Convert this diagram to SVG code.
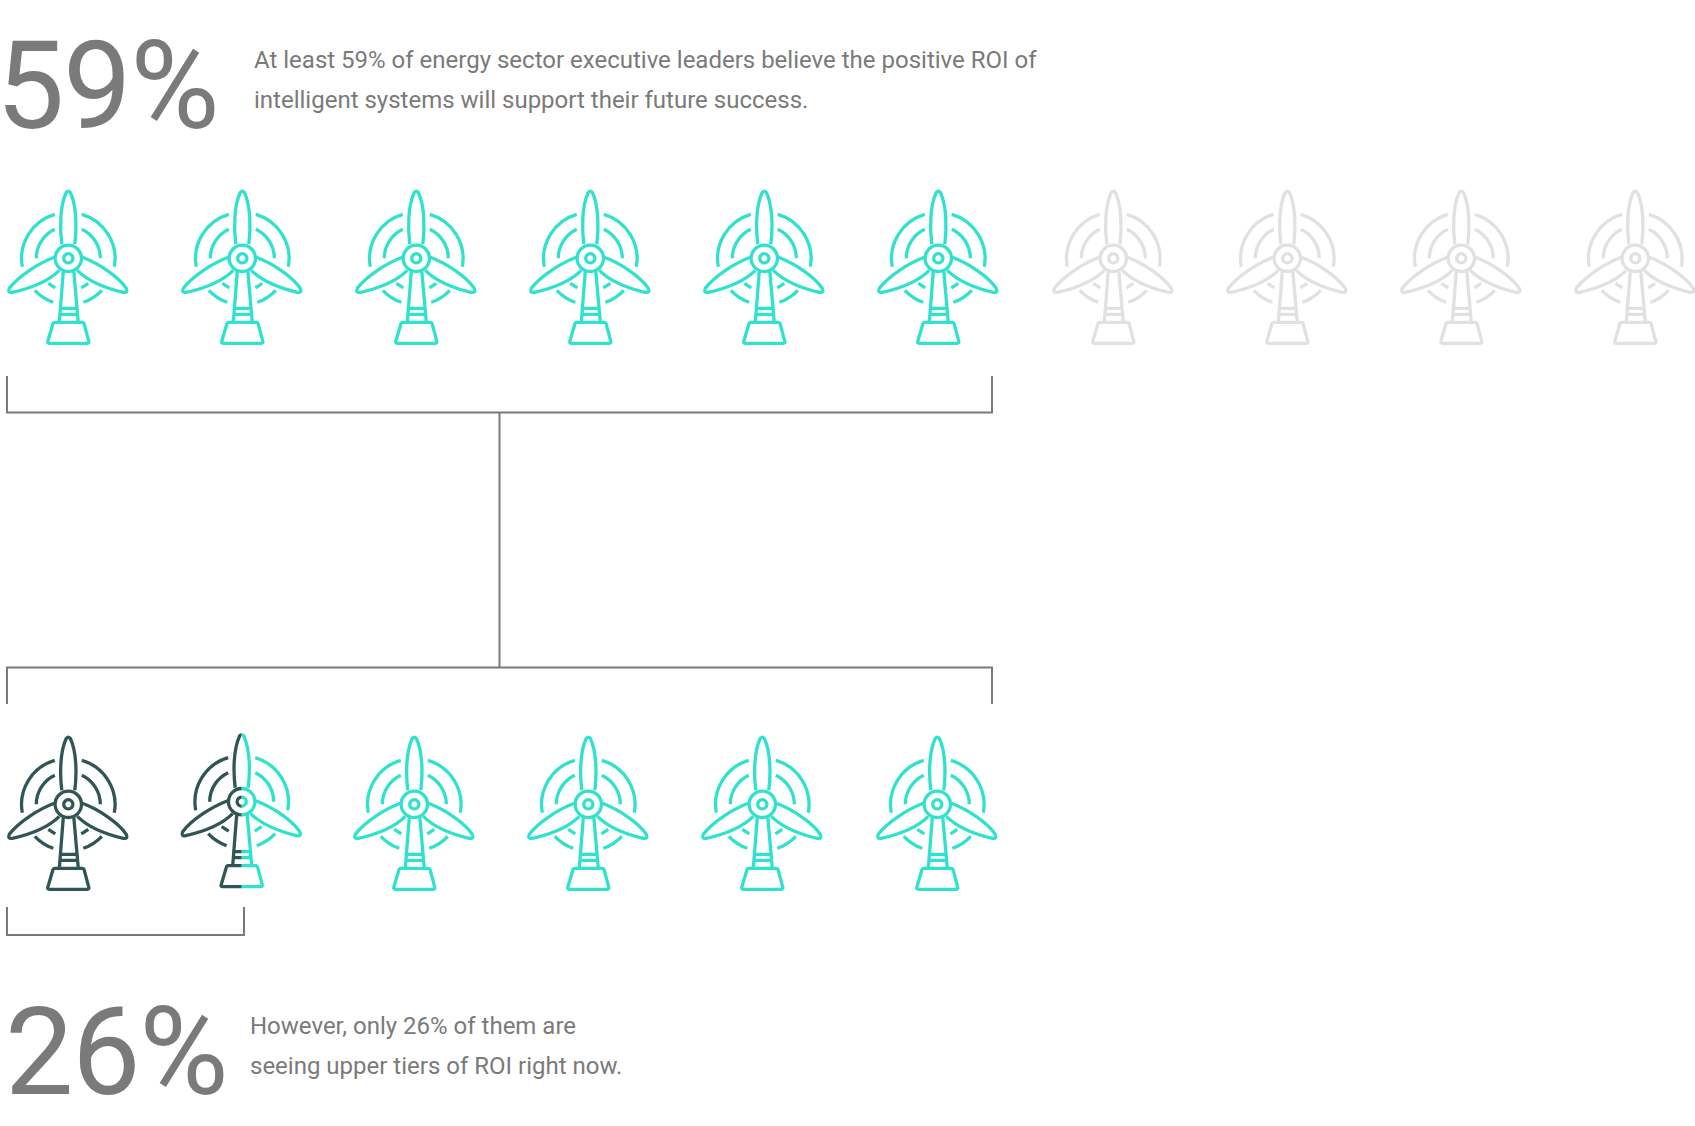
<svg xmlns="http://www.w3.org/2000/svg" width="1695" height="1126" viewBox="0 0 1695 1126">
<style>
text{font-family:Roboto,"Liberation Sans",sans-serif;fill:#7a7a7a}
.big{font-size:122px;letter-spacing:-1.5px}
.body{font-size:24px}
.conn{fill:none;stroke:#7a7a7a;stroke-width:2}
.t{color:#30e2cd}.g{color:#e1e1e1}.d{color:#2f5654}
</style>
<defs>
<g id="turbine" fill="none" stroke="currentColor" stroke-width="3.3" stroke-linecap="butt" stroke-linejoin="round">
<path d="M-6.500-14C-8.500-30-8.500-52-2-66Q0-68 2-66C8.500-52 8.500-30 6.500-14"/>
<path d="M14-1C30 5 50 18 58 30Q60 35 55 34C38 30 20 23 9 12"/>
<path d="M-14-1C-30 5-50 18-59 30Q-61 35-56 34C-38 30-20 23-9 12"/>
<circle r="13.200"/><circle r="4.600"/>
<path d="M-13.500-44A46 46 0 0 0-46 8.500M13.500-44A46 46 0 0 1 46 8.500M-33.500 32A46 46 0 0 0-15 44M33.500 32A46 46 0 0 1 15 44M-13.500-29A32 32 0 0 0-32 0M13.500-29A32 32 0 0 1 32 0M-20 25L-13 29.500M20 25L13 29.500"/>
<path d="M-5 13L-9 64M5.500 13L10 64M-8 50H8.500M-8 56H9"/>
<path d="M-13.500 64H14Q15.500 64 16 66L20.500 83Q21 85 19 85H-19Q-21 85-20.500 83L-15.500 66Q-15 64-13.500 64Z"/>
</g>
<clipPath id="left"><rect x="-80" y="-80" width="80" height="180"/></clipPath>
<clipPath id="right"><rect x="0" y="-80" width="80" height="180"/></clipPath>
</defs>
<g id="stat-59"><text class="big" x="-4" y="127.500">59%</text></g>
<g id="desc-59"><text class="body" x="254" y="68">At least 59% of energy sector executive leaders believe the positive ROI of</text><text class="body" x="254" y="108">intelligent systems will support their future success.</text></g>
<g id="connectors" class="conn">
<path d="M7 376V412.500H992V376"/>
<path d="M499.500 412.500V667"/>
<path d="M7 704V667.500H992V704"/>
<path d="M7 907V935H244V907"/>
</g>
<g id="top-1"><use href="#turbine" class="t" x="68.300" y="258.300"/></g>
<g id="top-2"><use href="#turbine" class="t" x="242.300" y="258.300"/></g>
<g id="top-3"><use href="#turbine" class="t" x="416.300" y="258.300"/></g>
<g id="top-4"><use href="#turbine" class="t" x="590.300" y="258.300"/></g>
<g id="top-5"><use href="#turbine" class="t" x="764.300" y="258.300"/></g>
<g id="top-6"><use href="#turbine" class="t" x="938.300" y="258.300"/></g>
<g id="top-7"><use href="#turbine" class="g" x="1113.300" y="258.300"/></g>
<g id="top-8"><use href="#turbine" class="g" x="1287.300" y="258.300"/></g>
<g id="top-9"><use href="#turbine" class="g" x="1461.300" y="258.300"/></g>
<g id="top-10"><use href="#turbine" class="g" x="1635.300" y="258.300"/></g>
<g id="bottom-1"><use href="#turbine" class="d" x="68.300" y="804.300"/></g>
<g id="bottom-2" transform="translate(241.700 801.700)"><g clip-path="url(#left)"><use href="#turbine" class="d"/></g><g clip-path="url(#right)"><use href="#turbine" class="t"/></g></g>
<g id="bottom-3"><use href="#turbine" class="t" x="414.300" y="804.300"/></g>
<g id="bottom-4"><use href="#turbine" class="t" x="588.300" y="804.300"/></g>
<g id="bottom-5"><use href="#turbine" class="t" x="762.300" y="804.300"/></g>
<g id="bottom-6"><use href="#turbine" class="t" x="937.300" y="804.300"/></g>
<g id="stat-26"><text class="big" x="5" y="1094">26%</text></g>
<g id="desc-26"><text class="body" x="250" y="1034">However, only 26% of them are</text><text class="body" x="250" y="1074">seeing upper tiers of ROI right now.</text></g>
</svg>
